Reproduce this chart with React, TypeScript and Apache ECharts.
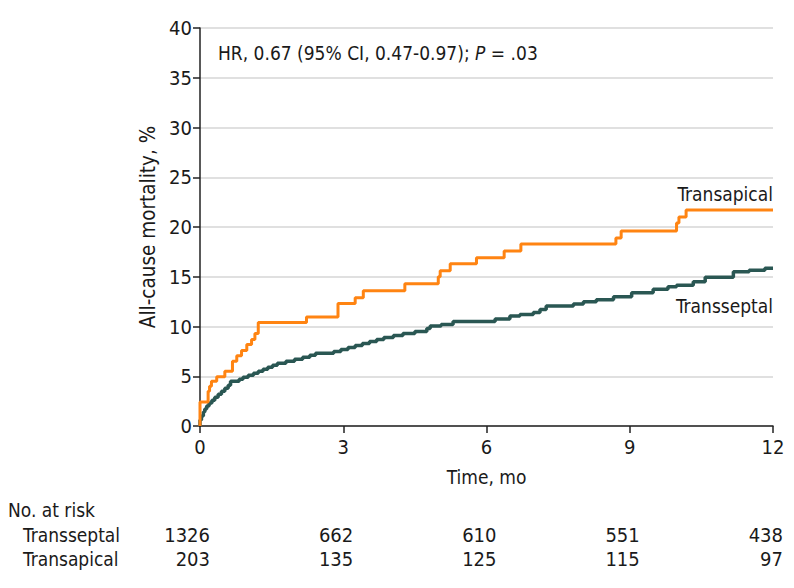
import React, { useEffect, useRef } from "react";
import * as echarts from "echarts";

const FONT = '"DejaVu Sans Condensed", "DejaVu Sans", sans-serif';
const FS = 19;
const NUM_FS = 20;

// Kaplan-Meier style cumulative mortality (%), [time in months, value after that time]
const transapical: [number, number][] = [
  [0, 0], [0, 2.4], [0.17, 3.5], [0.2, 4.0], [0.24, 4.5], [0.35, 4.95], [0.52, 5.5],
  [0.68, 6.5], [0.77, 7.05], [0.87, 7.6], [0.98, 8.2], [1.08, 8.7], [1.15, 9.3],
  [1.22, 10.4], [2.23, 10.95], [2.89, 12.3], [3.25, 12.9], [3.42, 13.6], [4.29, 14.3],
  [4.99, 15.0], [5.03, 15.6], [5.24, 16.3], [5.79, 16.9], [6.37, 17.6], [6.72, 18.3],
  [8.71, 18.9], [8.82, 19.6], [9.98, 20.4], [10.03, 21.0], [10.18, 21.7], [12, 21.7],
];

const transseptal: [number, number][] = [
  [0, 0], [0, 0.6], [0.03, 1.0], [0.07, 1.4], [0.1, 1.7], [0.14, 2.0], [0.19, 2.3],
  [0.25, 2.6], [0.31, 2.9], [0.38, 3.2], [0.45, 3.5], [0.52, 3.8], [0.59, 4.1],
  [0.64, 4.5], [0.82, 4.7], [0.9, 4.9], [1.01, 5.1], [1.12, 5.3], [1.22, 5.5],
  [1.32, 5.7], [1.42, 5.9], [1.52, 6.1], [1.62, 6.3], [1.8, 6.5], [1.98, 6.7],
  [2.15, 6.9], [2.3, 7.1], [2.42, 7.3], [2.8, 7.5], [2.95, 7.7], [3.1, 7.9],
  [3.25, 8.1], [3.4, 8.3], [3.55, 8.5], [3.7, 8.7], [3.85, 8.9], [4.05, 9.1],
  [4.25, 9.3], [4.5, 9.5], [4.75, 9.8], [4.82, 10.05], [5.05, 10.2], [5.3, 10.5],
  [6.18, 10.75], [6.49, 11.05], [6.7, 11.2], [6.98, 11.4], [7.12, 11.7], [7.25, 12.05],
  [7.82, 12.25], [8.03, 12.5], [8.3, 12.7], [8.66, 13.0], [9.04, 13.4], [9.49, 13.75],
  [9.8, 14.0], [9.98, 14.15], [10.33, 14.5], [10.58, 14.95], [11.17, 15.5],
  [11.5, 15.65], [11.83, 15.85], [12, 15.85],
];

const riskTimes = [0, 3, 6, 9, 12];
const riskTransseptal = [1326, 662, 610, 551, 438];
const riskTransapical = [203, 135, 125, 115, 97];
const riskRowLabels = ["Transseptal", "Transapical"];

const ORANGE = "#ff8412";
const TEAL = "#2a5753";
const TEXT = "#1a1a1a";

export default function App() {
  const ref = useRef<HTMLDivElement>(null);
  useEffect(() => {
    document.body.style.margin = "0";
    const chart = echarts.init(ref.current!, undefined, { renderer: "svg" });
    chart.setOption({
      animation: false,
      backgroundColor: "#ffffff",
      textStyle: { fontFamily: FONT },
      grid: { left: 200, right: 21, top: 28, bottom: 162, containLabel: false },
      title: {
        left: 218,
        top: 43,
        padding: 0,
        text: "{a|HR, 0.67 (95% CI, 0.47-0.97); }{i|P}{a| = .03}",
        textStyle: {
          fontWeight: "normal",
          rich: {
            a: { fontFamily: FONT, fontSize: FS, color: TEXT, fontWeight: "normal" },
            i: { fontFamily: FONT, fontSize: FS, color: TEXT, fontStyle: "italic", fontWeight: "normal" },
          },
        },
      },
      xAxis: {
        type: "value",
        min: 0,
        max: 12,
        interval: 3,
        name: "Time, mo",
        nameLocation: "middle",
        nameGap: 41,
        nameTextStyle: { fontFamily: FONT, fontSize: FS, color: TEXT },
        axisLine: { onZero: false, lineStyle: { color: "#222", width: 1.5 } },
        axisTick: { show: true, length: 7, lineStyle: { color: "#222", width: 1.5 } },
        axisLabel: { margin: 11, fontFamily: FONT, fontSize: NUM_FS, color: TEXT },
        splitLine: { show: false },
      },
      yAxis: {
        type: "value",
        min: 0,
        max: 40,
        interval: 5,
        name: "All-cause mortality, %",
        nameLocation: "middle",
        nameGap: 41,
        nameTextStyle: { fontFamily: FONT, fontSize: 20.5, color: TEXT },
        axisLine: { show: true, lineStyle: { color: "#222", width: 1.5 } },
        axisTick: { show: true, length: 7, lineStyle: { color: "#222", width: 1.5 } },
        axisLabel: { margin: 8, fontFamily: FONT, fontSize: NUM_FS, color: TEXT },
        splitLine: { show: true, lineStyle: { color: "#d6d6d6", width: 1.5 } },
      },
      series: [
        {
          name: "Transseptal",
          type: "line",
          step: "end",
          data: transseptal,
          showSymbol: false,
          clip: false,
          lineStyle: { color: TEAL, width: 3.5 },
          z: 3,
        },
        {
          name: "Transapical",
          type: "line",
          step: "end",
          data: transapical,
          showSymbol: false,
          clip: false,
          lineStyle: { color: ORANGE, width: 3 },
          z: 4,
        },
      ],
    });

    const toX = (t: number) => chart.convertToPixel({ xAxisIndex: 0 }, t) as number;
    const textStyle = (text: string, align: string, size = FS) => ({
      text,
      fontFamily: FONT,
      fontSize: size,
      fill: TEXT,
      textAlign: align,
      textVerticalAlign: "middle",
    });
    const graphics: any[] = [
      { type: "text", x: 773, y: 194, style: textStyle("Transapical", "right") },
      { type: "text", x: 773, y: 306, style: textStyle("Transseptal", "right") },
      { type: "text", x: 8, y: 510, style: textStyle("No. at risk", "left") },
      { type: "text", x: 23, y: 535, style: textStyle(riskRowLabels[0], "left") },
      { type: "text", x: 23, y: 559, style: textStyle(riskRowLabels[1], "left") },
    ];
    riskTimes.forEach((t, i) => {
      const x = toX(t) + 10;
      graphics.push({ type: "text", x, y: 535, style: textStyle(String(riskTransseptal[i]), "right", NUM_FS) });
      graphics.push({ type: "text", x, y: 559, style: textStyle(String(riskTransapical[i]), "right", NUM_FS) });
    });
    chart.setOption({ graphic: graphics });

    return () => chart.dispose();
  }, []);
  return <div ref={ref} style={{ width: 794, height: 588 }} />;
}
